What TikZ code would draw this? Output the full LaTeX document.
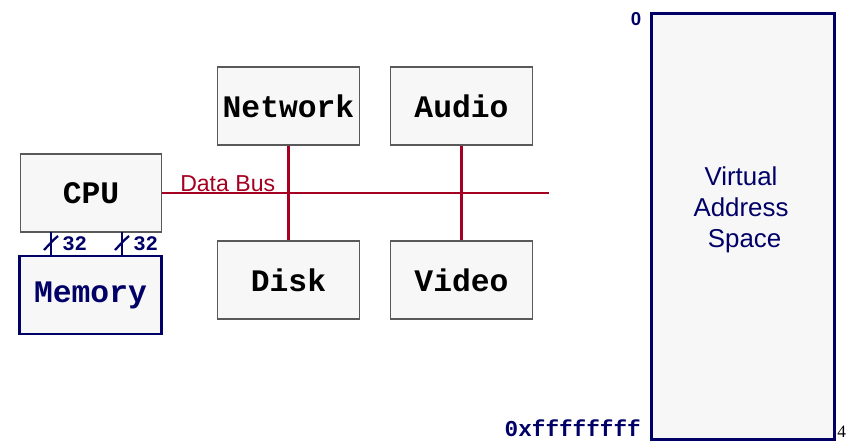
\documentclass[tikz,border=0pt]{standalone}
\usepackage{fontspec}
\setmainfont{Liberation Serif}
\setsansfont{Liberation Sans}
\setmonofont{Liberation Mono}
\begin{document}
\definecolor{busred}{HTML}{A50021}
\definecolor{navy}{HTML}{000066}
\definecolor{boxfill}{HTML}{F7F7F7}
\begin{tikzpicture}[x=0.75pt,y=-0.75pt,
  devbox/.style={draw=black!65,line width=0.9pt,fill=boxfill,minimum width=106pt,minimum height=58.5pt,inner sep=0pt,
    font=\fontsize{23.5}{26}\selectfont\ttfamily\bfseries},
  membox/.style={devbox,draw=navy,line width=2.2pt,text=navy},
  bus/.style={busred,line width=2.2pt},
  memline/.style={navy,line width=2.2pt},
  tick/.style={navy,line width=1.7pt},
  width/.style={navy,font=\fontsize{15.5}{17}\selectfont\ttfamily\bfseries,inner sep=0pt,anchor=west}]
\useasboundingbox (0,0) rectangle (846,441);
% devices
\node[devbox] (cpu) at (91,193) {CPU};
\node[membox] (mem) at (90.5,295) {Memory};
\node[devbox] (net) at (288.5,106) {Network};
\node[devbox] (aud) at (461.5,106) {Audio};
\node[devbox] (disk) at (288.5,280) {Disk};
\node[devbox] (vid) at (461.5,280) {Video};
% data bus
\coordinate (busend) at (549,193);
\draw[bus] (cpu.east) -- (busend);
\node[busred,font=\fontsize{17.3}{20}\selectfont\sffamily,anchor=south west,inner sep=0pt] (buslbl) at (180,192) {Data Bus};
\draw[bus] (net.south) -- (disk.north);
\draw[bus] (aud.south) -- (vid.north);
% cpu to memory, 32-bit wide
\foreach \x/\n in {51/a,122/b}{
  \coordinate (top\n) at (\x,232);
  \coordinate (bot\n) at (\x,256);
  \draw[memline] (top\n) -- (bot\n);
  \draw[tick] (\x-7,250) .. controls (\x-3,246) and (\x+2,240) .. (\x+7,236);
  \node[width] (w\n) at (\x+11,244) {32};
}
% address space
\node[draw=navy,line width=2.2pt,fill=boxfill,minimum width=137pt,minimum height=319.5pt,inner sep=0pt,anchor=north west] (vas) at (650,12) {};
\node[navy,align=center,font=\fontsize{19.4}{23.3}\selectfont\sffamily] (vastext) at (741,210) {Virtual\\Address\\\ Space};
\node[navy,font=\fontsize{14}{16}\selectfont\sffamily\bfseries,inner sep=0pt] (lo) at (636,19) {0};
\node[navy,font=\fontsize{17}{19}\selectfont\ttfamily\bfseries,inner sep=0pt,anchor=base east] (hi) at (641,436.5) {0xffffffff};
\node[font=\fontsize{13}{14}\selectfont,inner sep=0pt,anchor=base west] (pg) at (837,437) {4};
\end{tikzpicture}
\end{document}
